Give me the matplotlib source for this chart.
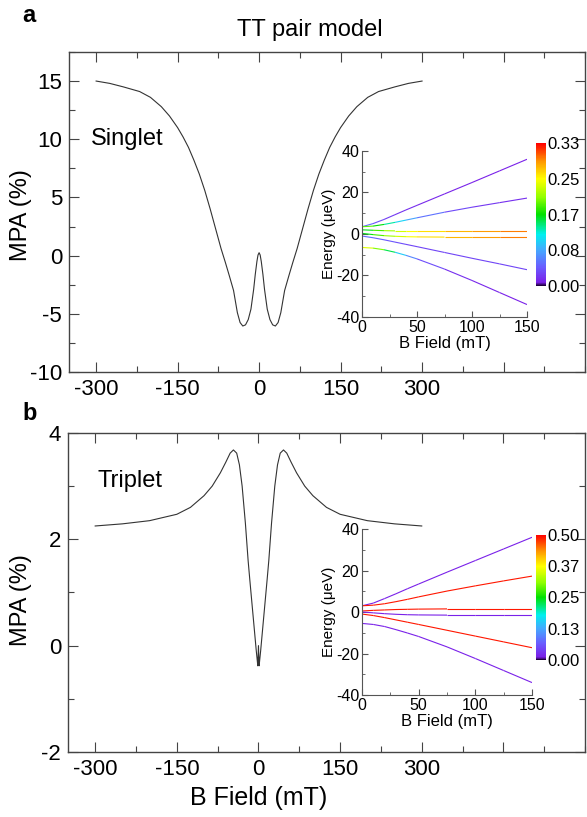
import numpy as np
import matplotlib
matplotlib.use("Agg")
import matplotlib.pyplot as plt
from matplotlib.collections import LineCollection
from matplotlib.colors import LinearSegmentedColormap, Normalize
from matplotlib.cm import ScalarMappable
from matplotlib.ticker import MultipleLocator

plt.rcParams['font.family'] = ['Liberation Sans', 'DejaVu Sans']
plt.rcParams['axes.unicode_minus'] = False

# ---- datos: curvas MPA (B en mT, MPA en %) ----
b_singlet = [-300, -275, -250, -220, -200, -180, -165, -150, -140, -130, -120, -110, -100,
             -90, -80, -70, -62, -55, -47, -40, -35, -30, -25, -20, -15, -10, -7, -4, -2, 0,
             2, 4, 7, 10, 15, 20, 25, 30, 35, 40, 47, 55, 62, 70, 80, 90, 100, 110, 120,
             130, 140, 150, 165, 180, 200, 220, 250, 275, 300]
mpa_singlet = [15.0, 14.8, 14.5, 14.1, 13.6, 12.8, 12.0, 11.0, 10.2, 9.3, 8.2, 7.0, 5.6,
               4.0, 2.3, 0.6, -0.6, -1.7, -3.0, -4.9, -5.75, -6.05, -5.95, -5.5, -4.6, -2.9, -1.6, -0.5, 0.05, 0.25,
               0.05, -0.5, -1.6, -2.9, -4.6, -5.5, -5.95, -6.05, -5.75, -4.9, -3.0, -1.7, -0.6, 0.6, 2.3, 4.0, 5.6, 7.0, 8.2,
               9.3, 10.2, 11.0, 12.0, 12.8, 13.6, 14.1, 14.5, 14.8, 15.0]

b_triplet = [-300, -250, -200, -150, -125, -100, -85, -70, -60, -52, -46, -40, -35, -30, -24,
             -19, -16, -12, -8, -4, -2, -1.2, 0, 1.2, 2, 4, 8, 12, 16, 19, 24, 30, 35, 40,
             46, 52, 60, 70, 85, 100, 125, 150, 200, 250, 300]
mpa_triplet = [2.25, 2.29, 2.35, 2.47, 2.6, 2.82, 3.0, 3.25, 3.45, 3.62, 3.68, 3.62, 3.4, 3.0, 2.3,
               1.6, 1.25, 0.8, 0.35, -0.1, -0.3, -0.38, 0.0, -0.38, -0.3, -0.1, 0.35, 0.8, 1.25, 1.6, 2.3, 3.0, 3.4, 3.62,
               3.68, 3.62, 3.45, 3.25, 3.0, 2.82, 2.6, 2.47, 2.35, 2.29, 2.25]

# ---- datos: niveles de energia de los insertos (ueV) ----
field_pts = [0, 10, 20, 30, 40, 50, 75, 100, 125, 150]

levels_a = [
    [3.5, 5.0, 7.0, 9.3, 11.6, 13.8, 19.3, 24.8, 30.4, 36.0],
    [3.5, 3.8, 4.6, 5.6, 6.7, 7.8, 10.5, 12.9, 15.1, 17.3],
    [2.0, 1.8, 1.6, 1.5, 1.5, 1.5, 1.5, 1.5, 1.5, 1.5],
    [0.3, -0.3, -0.8, -1.1, -1.3, -1.4, -1.5, -1.5, -1.5, -1.5],
    [-1.0, -1.8, -2.8, -3.9, -5.0, -6.1, -8.9, -11.7, -14.4, -17.2],
    [-6.5, -6.8, -7.6, -8.8, -10.3, -12.0, -16.9, -22.4, -28.2, -34.0],
]
weights_a = [
    [0.06, 0.04, 0.03, 0.02, 0.02, 0.015, 0.012, 0.01, 0.01, 0.01],
    [0.2, 0.18, 0.15, 0.12, 0.09, 0.07, 0.04, 0.025, 0.02, 0.015],
    [0.15, 0.17, 0.2, 0.22, 0.24, 0.25, 0.27, 0.28, 0.29, 0.3],
    [0.15, 0.17, 0.2, 0.22, 0.24, 0.25, 0.27, 0.28, 0.29, 0.3],
    [0.05, 0.05, 0.04, 0.04, 0.03, 0.03, 0.03, 0.03, 0.03, 0.03],
    [0.25, 0.22, 0.18, 0.12, 0.08, 0.05, 0.02, 0.015, 0.01, 0.01],
]

levels_b = [
    [3.0, 4.3, 6.5, 8.8, 11.2, 13.5, 19.2, 24.8, 30.4, 36.0],
    [3.0, 3.3, 4.0, 5.0, 6.1, 7.3, 10.1, 12.6, 15.0, 17.3],
    [0.5, 0.8, 1.0, 1.2, 1.3, 1.4, 1.5, 1.5, 1.5, 1.5],
    [0.0, -0.4, -0.8, -1.1, -1.3, -1.4, -1.5, -1.5, -1.5, -1.5],
    [-1.0, -1.7, -2.7, -3.8, -4.9, -6.0, -8.8, -11.6, -14.4, -17.2],
    [-5.5, -6.0, -7.0, -8.5, -10.1, -11.8, -16.8, -22.4, -28.2, -34.0],
]
weights_b = [
    [0.015] * 10,
    [0.49] * 10,
    [0.49] * 10,
    [0.015] * 10,
    [0.49] * 10,
    [0.015] * 10,
]

cbar_ticks_a = [0.0, 0.0825, 0.165, 0.2475, 0.33]
cbar_labels_a = ['0.00', '0.08', '0.17', '0.25', '0.33']
cbar_ticks_b = [0.0, 0.125, 0.25, 0.375, 0.5]
cbar_labels_b = ['0.00', '0.13', '0.25', '0.37', '0.50']

# mapa de colores tipo arcoiris (Origin)
cmap = LinearSegmentedColormap.from_list('origin_rainbow', [
    (0.0, '#200040'), (0.025, '#7a20e8'), (0.13, '#6a5cff'), (0.25, '#45a8ff'),
    (0.36, '#00f0f0'), (0.5, '#00e000'), (0.62, '#90ff00'), (0.75, '#ffff00'),
    (0.87, '#ff9900'), (1.0, '#ff0000')])

fig = plt.figure(figsize=(5.87, 8.17), dpi=100)


def setup_main(ax, ylim, ymaj, ymin):
    ax.set_xlim(-350, 600)
    ax.set_ylim(*ylim)
    ax.set_xticks([-300, -150, 0, 150, 300, 450])
    ax.set_xticklabels(['-300', '-150', '0', '150', '300', ''])
    ax.xaxis.set_minor_locator(MultipleLocator(75))
    ax.yaxis.set_major_locator(MultipleLocator(ymaj))
    ax.yaxis.set_minor_locator(MultipleLocator(ymin))
    ax.tick_params(which='both', direction='in', top=True, right=True,
                   labelsize=16, color='#444444', pad=5)
    ax.tick_params(which='major', length=7, width=0.8)
    ax.tick_params(which='minor', length=4, width=0.8)
    for s in ax.spines.values():
        s.set_color('#444444')
        s.set_linewidth(1.0)
    ax.set_ylabel('MPA (%)', fontsize=17)
    ax.yaxis.set_label_coords(-0.072, 0.49)


def setup_inset(ax):
    ax.patch.set_alpha(0)
    ax.set_xlim(0, 150)
    ax.set_ylim(-40, 40)
    ax.spines['top'].set_visible(False)
    ax.spines['right'].set_visible(False)
    for s in ['left', 'bottom']:
        ax.spines[s].set_color('#555555')
        ax.spines[s].set_linewidth(0.8)
    ax.xaxis.set_major_locator(MultipleLocator(50))
    ax.xaxis.set_minor_locator(MultipleLocator(25))
    ax.yaxis.set_major_locator(MultipleLocator(20))
    ax.yaxis.set_minor_locator(MultipleLocator(10))
    ax.tick_params(which='both', direction='in', labelsize=11.5, color='#555555', pad=2)
    ax.tick_params(which='major', length=4)
    ax.tick_params(which='minor', length=2)
    ax.set_xlabel('B Field (mT)', fontsize=12, labelpad=1)
    ax.set_ylabel('Energy (\u03bceV)', fontsize=11, labelpad=0)


def draw_levels(ax, lines, weights, norm):
    for e, w in zip(lines, weights):
        pts = np.column_stack([field_pts, e])
        segs = np.stack([pts[:-1], pts[1:]], axis=1)
        w = np.array(w)
        lc = LineCollection(segs, cmap=cmap, norm=norm, linewidth=0.8)
        lc.set_array((w[:-1] + w[1:]) / 2)
        ax.add_collection(lc)


def add_cbar(rect, vmax, ticks, labels):
    cax = fig.add_axes(rect)
    norm = Normalize(0, vmax)
    cb = fig.colorbar(ScalarMappable(norm=norm, cmap=cmap), cax=cax, ticks=ticks)
    cb.set_ticklabels(labels)
    cb.outline.set_visible(False)
    cax.tick_params(length=0, labelsize=12, pad=1)
    return norm


# ---- panel a ----
ax_a = fig.add_axes([0.1175, 0.5447, 0.8791, 0.3917])
ax_a.plot(b_singlet, mpa_singlet, color='#333333', lw=0.8)
setup_main(ax_a, (-10, 17.5), 5, 2.5)
ax_a.text(-310, 10, 'Singlet', fontsize=17, va='center')

in_a = fig.add_axes([0.6167, 0.6120, 0.2811, 0.2032])
setup_inset(in_a)
norm_a = add_cbar([0.9131, 0.6499, 0.017, 0.175], 0.33, cbar_ticks_a, cbar_labels_a)
draw_levels(in_a, levels_a, weights_a, norm_a)

# ---- panel b ----
ax_b = fig.add_axes([0.1158, 0.0796, 0.8808, 0.3905])
ax_b.plot(b_triplet, mpa_triplet, color='#333333', lw=0.8)
setup_main(ax_b, (-2, 4), 2, 1)
ax_b.yaxis.set_label_coords(-0.07, 0.476)
ax_b.text(-296, 3.1, 'Triplet', fontsize=17, va='center')
ax_b.set_xlabel('B Field (mT)', fontsize=18)
ax_b.xaxis.set_label_coords(0.368, -0.108)

in_b = fig.add_axes([0.6167, 0.1493, 0.2896, 0.2032])
setup_inset(in_b)
norm_b = add_cbar([0.9131, 0.1922, 0.017, 0.153], 0.5, cbar_ticks_b, cbar_labels_b)
draw_levels(in_b, levels_b, weights_b, norm_b)

# textos de la figura
fig.text(22 / 587, 1 - 15 / 817, 'a', fontsize=17, fontweight='bold', va='center')
fig.text(22 / 587, 1 - 413 / 817, 'b', fontsize=17, fontweight='bold', va='center')
fig.text(310 / 587, 1 - 30 / 817, 'TT pair model', fontsize=17, ha='center', va='center')

fig.savefig('out.png', dpi=100)
